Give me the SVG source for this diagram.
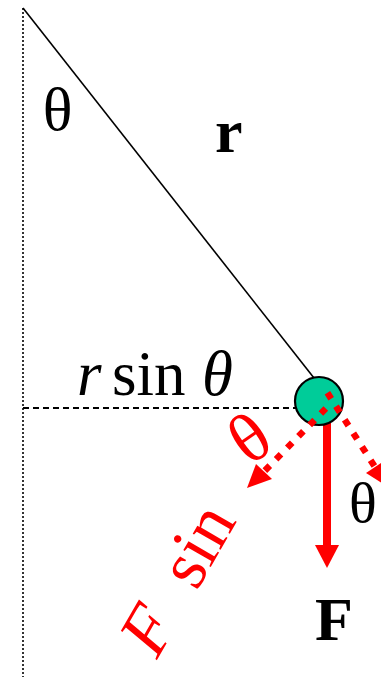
<svg xmlns="http://www.w3.org/2000/svg" width="381" height="679" viewBox="0 0 381 679">
<style>
.t{font-family:"Liberation Serif","Times New Roman",serif}
.red{fill:#FF0000}
.dot{stroke:#FF0000;stroke-width:6.5;stroke-dasharray:7 9;fill:none}
</style>
<rect width="381" height="679" fill="#FFFFFF"/>
<g id="connectors">
<line x1="23" y1="8" x2="23" y2="677" stroke="#333" stroke-width="2" stroke-dasharray="2 2"/>
<line x1="23" y1="8" x2="314" y2="378" stroke="#000" stroke-width="1.6"/>
<line x1="23" y1="408" x2="296" y2="408" stroke="#000" stroke-width="2" stroke-dasharray="6 4"/>
<line x1="327" y1="405" x2="327" y2="546" stroke="#FF0000" stroke-width="8"/>
<polygon points="315,545 339,545 327,568" class="red"/>
</g>
<g id="mass">
<circle cx="319" cy="401" r="24" fill="#00CC99" stroke="#000" stroke-width="2.2"/>
</g>
<g id="components">
<line x1="325.8" y1="408.5" x2="264" y2="471.5" class="dot"/>
<polygon points="247,488 256,464 272,479" class="red"/>
<line x1="327.4" y1="392.8" x2="375" y2="467" class="dot"/>
<polygon points="388,487 384,461 366,473" class="red"/>
</g>
<g id="labels">
<text x="57.5" y="130" font-size="62" text-anchor="middle" class="t">θ</text>
<text x="215" y="152" font-size="62" font-weight="bold" class="t">r</text>
<text y="395" font-size="63" class="t"><tspan x="77" font-style="italic">r</tspan><tspan x="112">sin</tspan><tspan x="202" font-style="italic">θ</tspan></text>
<text x="334" y="640" font-size="62" font-weight="bold" text-anchor="middle" class="t">F</text>
<text x="363" y="522" font-size="58" text-anchor="middle" class="t">θ</text>
<text transform="translate(157,660) rotate(-60)" font-size="70" class="t red"><tspan font-style="italic">F</tspan><tspan dx="36">sin</tspan><tspan dx="53" dy="-17" rotate="25">θ</tspan></text>
</g>
</svg>
